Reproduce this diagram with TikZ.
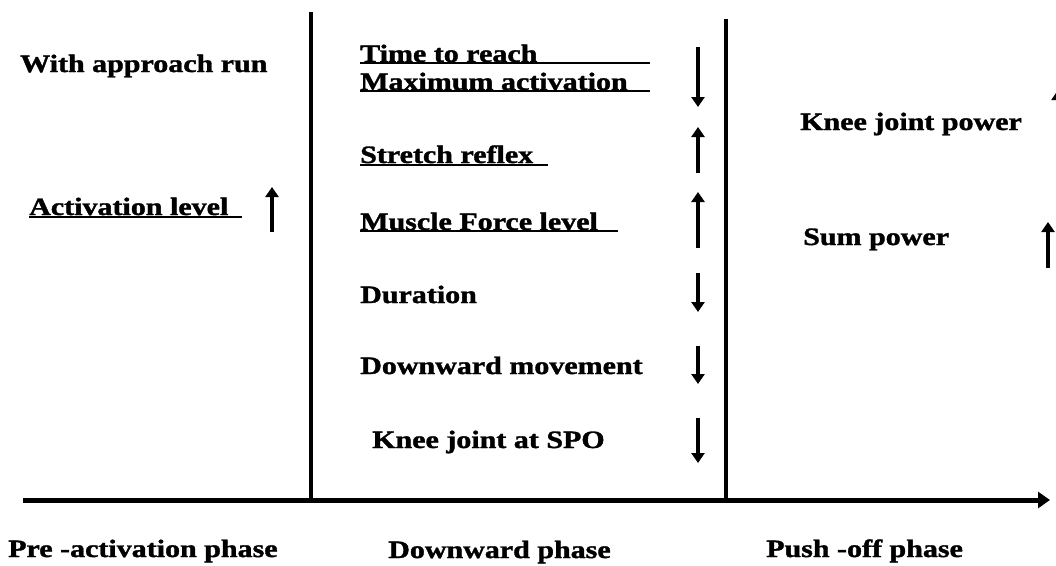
\documentclass[tikz,border=0pt]{standalone}
\usepackage{fontspec}
\setmainfont{Liberation Serif}[BoldFeatures={FakeBold=1.3}]
\usetikzlibrary{arrows.meta}
\newcommand{\wide}[1]{\scalebox{1.2}[1]{#1}}
\begin{document}
\begin{tikzpicture}[x=1pt,y=-1pt,
 lbl/.style={anchor=base west,inner sep=0pt,font=\fontsize{25}{30}\selectfont\bfseries},
 uline/.style={line width=1.6pt},
 phase/.style={line width=4pt},
 axis/.style={line width=5pt,-{Triangle[width=16pt,length=12pt]}},
 ind/.style={line width=3.2pt,-{Triangle[width=13pt,length=10pt]}}]
\useasboundingbox (0,0) rectangle (1056,565);
% phase separators and time axis
\coordinate (a0) at (23,500);
\coordinate (a1) at (1050,500);
\coordinate (s1t) at (311,12);
\coordinate (s1b) at (311,500);
\coordinate (s2t) at (726,19);
\coordinate (s2b) at (726,500);
\draw[phase] (s1t) -- (s1b);
\draw[phase] (s2t) -- (s2b);
\draw[axis] (a0) -- (a1);
% pre-activation phase
\node[lbl] (war) at (20,72) {\wide{With approach run}};
\node[lbl] (act) at (29,215) {\wide{Activation level}};
\coordinate (actU) at (242,217);
\draw[uline] (act.base west |- actU) -- (actU);
\coordinate (ar1b) at (272,232); \coordinate (ar1t) at (272,187);
\draw[ind] (ar1b) -- (ar1t);
% downward phase
\node[lbl] (ttr) at (360,62) {\wide{Time to reach}};
\coordinate (ttrU) at (650,63);
\draw[uline] (ttr.base west |- ttrU) -- (ttrU);
\node[lbl] (max) at (360,90) {\wide{Maximum activation}};
\coordinate (maxU) at (650,91);
\draw[uline] (max.base west |- maxU) -- (maxU);
\coordinate (ar2t) at (698,47); \coordinate (ar2b) at (698,107);
\draw[ind] (ar2t) -- (ar2b);
\node[lbl] (str) at (360,163) {\wide{Stretch reflex}};
\coordinate (strU) at (548,165);
\draw[uline] (str.base west |- strU) -- (strU);
\coordinate (ar3b) at (698,173); \coordinate (ar3t) at (698,127);
\draw[ind] (ar3b) -- (ar3t);
\node[lbl] (mfl) at (360,230) {\wide{Muscle Force level}};
\coordinate (mflU) at (618,231);
\draw[uline] (mfl.base west |- mflU) -- (mflU);
\coordinate (ar4b) at (698,248); \coordinate (ar4t) at (698,192);
\draw[ind] (ar4b) -- (ar4t);
\node[lbl] (dur) at (360,303) {\wide{Duration}};
\coordinate (ar5t) at (698,273); \coordinate (ar5b) at (698,312);
\draw[ind] (ar5t) -- (ar5b);
\node[lbl] (dwm) at (360,374) {\wide{Downward movement}};
\coordinate (ar6t) at (698,346); \coordinate (ar6b) at (698,384);
\draw[ind] (ar6t) -- (ar6b);
\node[lbl] (kjs) at (372,448) {\wide{Knee joint at SPO}};
\coordinate (ar7t) at (698,418); \coordinate (ar7b) at (698,463);
\draw[ind] (ar7t) -- (ar7b);
% push-off phase
\node[lbl] (kjp) at (800,130) {\wide{Knee joint power}};
\coordinate (ar8b) at (1058,140); \coordinate (ar8t) at (1058,90);
\draw[ind] (ar8b) -- (ar8t);
\node[lbl] (sum) at (803,245) {\wide{Sum power}};
\coordinate (ar9b) at (1048,268); \coordinate (ar9t) at (1048,222);
\draw[ind] (ar9b) -- (ar9t);
% phase names
\node[lbl] (p1) at (8,557) {\wide{Pre -activation phase}};
\node[lbl] (p2) at (388,558) {\wide{Downward phase}};
\node[lbl] (p3) at (766,557) {\wide{Push -off phase}};
\end{tikzpicture}
\end{document}
